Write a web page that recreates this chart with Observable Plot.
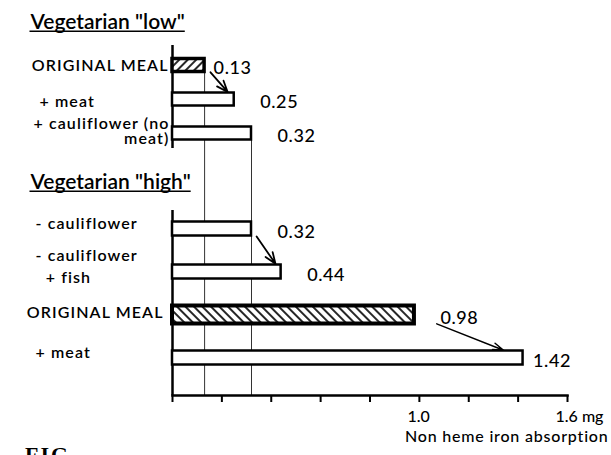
<!DOCTYPE html>
<html>
<head>
<meta charset="utf-8">
<script src="https://cdn.jsdelivr.net/npm/d3@7"></script>
<script src="https://cdn.jsdelivr.net/npm/@observablehq/plot@0.6"></script>
<style>
  html, body { margin: 0; padding: 0; background: #fff; }
  #chart svg { display: block; }
  #fig { font-family: "Liberation Serif", serif; font-weight: bold; font-size: 22px; margin: -2px 0 0 25px; line-height: 22px; letter-spacing: 2px; }
</style>
</head>
<body>
<div id="chart"></div>
<div id="fig">FIG.</div>
<script>
// ---- data ----
const groupTitles = ['Vegetarian "low"', 'Vegetarian "high"'];
const lowCategories = ["ORIGINAL MEAL", "+ meat", "+ cauliflower (no\nmeat)"];
const lowValues = [0.13, 0.25, 0.32];
const highCategories = ["- cauliflower", "- cauliflower\n\u00a0\u00a0+ fish", "ORIGINAL MEAL", "+ meat"];
const highValues = [0.32, 0.44, 0.98, 1.42];
const referenceValues = [0.13, 0.32];
const lowArrows = [[0, 1]];
const highArrows = [[0, 1], [2, 3]];
const xTicks = [0, 0.2, 0.4, 0.6, 0.8, 1.0, 1.2, 1.4, 1.6];
const xTickLabels = ["", "", "", "", "", "1.0", "", "", "1.6 mg"];
const xLabel = "Non heme iron absorption";

// ---- layout ----
const W = 611, ML = 172, MR = 44;
const xDomain = [0, 1.6];
const FONT = "Lato, 'Open Sans', sans-serif";
const isOriginal = (c) => c === "ORIGINAL MEAL";
const isWrapped = (c) => c.includes("(no");
const fmt = (v) => v.toFixed(2);

function addHatch(svg, id, angle) {
  const ns = "http://www.w3.org/2000/svg";
  const defs = document.createElementNS(ns, "defs");
  const p = document.createElementNS(ns, "pattern");
  p.setAttribute("id", id);
  p.setAttribute("patternUnits", "userSpaceOnUse");
  p.setAttribute("width", 6);
  p.setAttribute("height", 6);
  p.setAttribute("patternTransform", `rotate(${angle})`);
  const bg = document.createElementNS(ns, "rect");
  bg.setAttribute("width", 6); bg.setAttribute("height", 6); bg.setAttribute("fill", "white");
  const ln = document.createElementNS(ns, "line");
  ln.setAttribute("x1", 1); ln.setAttribute("y1", 0); ln.setAttribute("x2", 1); ln.setAttribute("y2", 6);
  ln.setAttribute("stroke", "black"); ln.setAttribute("stroke-width", 1.7);
  p.appendChild(bg); p.appendChild(ln); defs.appendChild(p);
  svg.insertBefore(defs, svg.firstChild);
}

// apply CSS to the rendered texts whose content is in `labels`
function styleTexts(svg, labels, css) {
  const keys = new Set(labels.map(s => String(s).replace(/\n/g, "")));
  svg.querySelectorAll("text").forEach(t => {
    if (keys.has(t.textContent)) Object.assign(t.style, css);
  });
}

function underlineTexts(svg, labels) {
  const ns = "http://www.w3.org/2000/svg";
  const keys = new Set(labels);
  svg.querySelectorAll("text").forEach(t => {
    if (!keys.has(t.textContent)) return;
    const b = t.getBBox();
    const ln = document.createElementNS(ns, "line");
    const y = b.y + b.height - 2;
    ln.setAttribute("x1", b.x);
    ln.setAttribute("x2", b.x + b.width);
    ln.setAttribute("y1", y);
    ln.setAttribute("y2", y);
    ln.setAttribute("stroke", "black");
    ln.setAttribute("stroke-width", 1.6);
    if (t.getAttribute("transform")) ln.setAttribute("transform", t.getAttribute("transform"));
    t.parentNode.appendChild(ln);
  });
}

const valueStyle = {textAnchor: "start", dy: 3, fontSize: 18, fontWeight: 500};
const labelStyle = {frameAnchor: "left", fontSize: 16, fontWeight: 600};
const titleStyle = {frameAnchor: "top-left", dx: -142, textAnchor: "start", lineAnchor: "middle", fontSize: 21, fontWeight: 600};

// ---- top section: Vegetarian "low" ----
const lowIdx = lowCategories.map((_, i) => i);
const lowLast = lowCategories[lowCategories.length - 1];
const lowRefs = referenceValues.map(v => ({v, from: lowCategories[lowValues.indexOf(v)]}));
const topPlot = Plot.plot({
  width: W, height: 165,
  marginLeft: ML, marginRight: MR, marginTop: 47, marginBottom: 15,
  x: {domain: xDomain, axis: null},
  y: {type: "band", domain: lowCategories, padding: 0, axis: null},
  style: {fontFamily: FONT, color: "black", background: "white"},
  marks: [
    Plot.ruleX(lowRefs, {x: "v", y1: "from", y2: () => lowLast, insetTop: 24, insetBottom: -15, stroke: "#333", strokeWidth: 1}),
    Plot.ruleX([0], {insetTop: -2, insetBottom: 2, stroke: "black", strokeWidth: 2.5}),
    Plot.barX(lowIdx.filter(i => !isOriginal(lowCategories[i])), {
      x: i => lowValues[i], y: i => lowCategories[i],
      fill: "white", stroke: "black", strokeWidth: 2.5, insetTop: 10.5, insetBottom: 10.5
    }),
    Plot.barX(lowIdx.filter(i => isOriginal(lowCategories[i])), {
      x: i => lowValues[i], y: i => lowCategories[i],
      fill: "url(#hatchLow)", stroke: "black", strokeWidth: 3.5, insetTop: 10.5, insetBottom: 10.5
    }),
    Plot.arrow(lowArrows, {
      x1: d => lowValues[d[0]], y1: d => lowCategories[d[0]],
      x2: d => lowValues[d[1]], y2: d => lowCategories[d[1]],
      insetStart: 9, insetEnd: 10, headLength: 10, headAngle: 42, strokeWidth: 1.8, stroke: "black"
    }),
    Plot.text(lowIdx.filter(i => isOriginal(lowCategories[i])), {
      x: i => lowValues[i], y: i => lowCategories[i], text: i => fmt(lowValues[i]), dx: 9, ...valueStyle
    }),
    Plot.text(lowIdx.filter(i => !isOriginal(lowCategories[i])), {
      x: i => lowValues[i], y: i => lowCategories[i], text: i => fmt(lowValues[i]), dx: 26, ...valueStyle
    }),
    Plot.text(lowIdx.filter(i => isOriginal(lowCategories[i])), {
      y: i => lowCategories[i], text: i => lowCategories[i], ...labelStyle, textAnchor: "end", dx: -4
    }),
    Plot.text(lowIdx.filter(i => isWrapped(lowCategories[i])), {
      y: i => lowCategories[i], text: i => lowCategories[i], ...labelStyle,
      textAnchor: "end", dx: -3, dy: -2, lineHeight: 0.95
    }),
    Plot.text(lowIdx.filter(i => !isOriginal(lowCategories[i]) && !isWrapped(lowCategories[i])), {
      y: i => lowCategories[i], text: i => lowCategories[i], ...labelStyle, textAnchor: "start", dx: -133, dy: 2
    }),
    Plot.text([groupTitles[0]], {...titleStyle, dy: -25})
  ]
});
addHatch(topPlot, "hatchLow", 45);

// ---- bottom section: Vegetarian "high" ----
const highIdx = highCategories.map((_, i) => i);
const bottomPlot = Plot.plot({
  width: W, height: 281,
  marginLeft: ML, marginRight: MR, marginTop: 41, marginBottom: 51,
  x: {domain: xDomain, axis: null},
  y: {type: "band", domain: highCategories, range: [41, 215], padding: 0, axis: null},
  style: {fontFamily: FONT, color: "black", background: "white"},
  marks: [
    Plot.ruleX(referenceValues, {insetTop: -41, stroke: "#333", strokeWidth: 1}),
    Plot.ruleX([0], {insetTop: 4, stroke: "black", strokeWidth: 2.5}),
    Plot.frame({anchor: "bottom", stroke: "black", strokeWidth: 2.5}),
    Plot.axisX({ticks: xTicks, tickSize: 7, tickFormat: () => "", label: null, strokeWidth: 2}),
    Plot.barX(highIdx.filter(i => !isOriginal(highCategories[i])), {
      x: i => highValues[i], y: i => highCategories[i],
      fill: "white", stroke: "black", strokeWidth: 2.5, insetTop: 14.5, insetBottom: 14.5
    }),
    Plot.barX(highIdx.filter(i => isOriginal(highCategories[i])), {
      x: i => highValues[i], y: i => highCategories[i],
      fill: "url(#hatchHigh)", stroke: "black", strokeWidth: 4, insetTop: 12.5, insetBottom: 12.5
    }),
    Plot.arrow(highArrows.filter(d => !isOriginal(highCategories[d[0]])), {
      x1: d => highValues[d[0]], y1: d => highCategories[d[0]],
      x2: d => highValues[d[1]], y2: d => highCategories[d[1]],
      insetStart: 9, insetEnd: 10, headLength: 10, headAngle: 42, strokeWidth: 1.8, stroke: "black"
    }),
    Plot.arrow(highArrows.filter(d => isOriginal(highCategories[d[0]])), {
      x1: d => highValues[d[0]], y1: d => highCategories[d[0]],
      x2: d => highValues[d[1]], y2: d => highCategories[d[1]],
      insetStart: 24, insetEnd: 21, headLength: 11, headAngle: 36, strokeWidth: 1.5, stroke: "black"
    }),
    Plot.text(highIdx.filter(i => i !== highCategories.length - 1), {
      x: i => highValues[i], y: i => highCategories[i], text: i => fmt(highValues[i]), dx: 26, ...valueStyle
    }),
    Plot.text(highIdx.filter(i => i === highCategories.length - 1), {
      x: i => highValues[i], y: i => highCategories[i], text: i => fmt(highValues[i]), dx: 10, ...valueStyle
    }),
    Plot.text(highIdx.filter(i => isOriginal(highCategories[i])), {
      y: i => highCategories[i], text: i => highCategories[i], ...labelStyle, textAnchor: "end", dx: -9, dy: -2
    }),
    Plot.text(highIdx.filter(i => !isOriginal(highCategories[i])), {
      y: i => highCategories[i], text: i => highCategories[i], ...labelStyle,
      textAnchor: "start", dx: -137, dy: -7, lineHeight: 1.4
    }),
    Plot.text([groupTitles[1]], {...titleStyle, dy: -24}),
    Plot.text(xTicks, {
      x: d => d, text: (d, i) => xTickLabels[i], frameAnchor: "bottom",
      textAnchor: "start", dx: -12, dy: 26, fontSize: 16, fontWeight: 500
    }),
    Plot.text([xLabel], {
      frameAnchor: "bottom-right", textAnchor: "end", dx: 41, dy: 46, fontSize: 16, fontWeight: 500
    })
  ]
});
addHatch(bottomPlot, "hatchHigh", -45);

const chart = document.getElementById("chart");
chart.appendChild(topPlot);
chart.appendChild(bottomPlot);

for (const svg of [topPlot, bottomPlot]) {
  styleTexts(svg, [...lowCategories, ...highCategories], {letterSpacing: "1.1px"});
  styleTexts(svg, [...lowValues, ...highValues].map(fmt), {letterSpacing: "0.6px"});
  styleTexts(svg, [xLabel], {letterSpacing: "0.8px"});
  underlineTexts(svg, groupTitles);
}
</script>
</body>
</html>
